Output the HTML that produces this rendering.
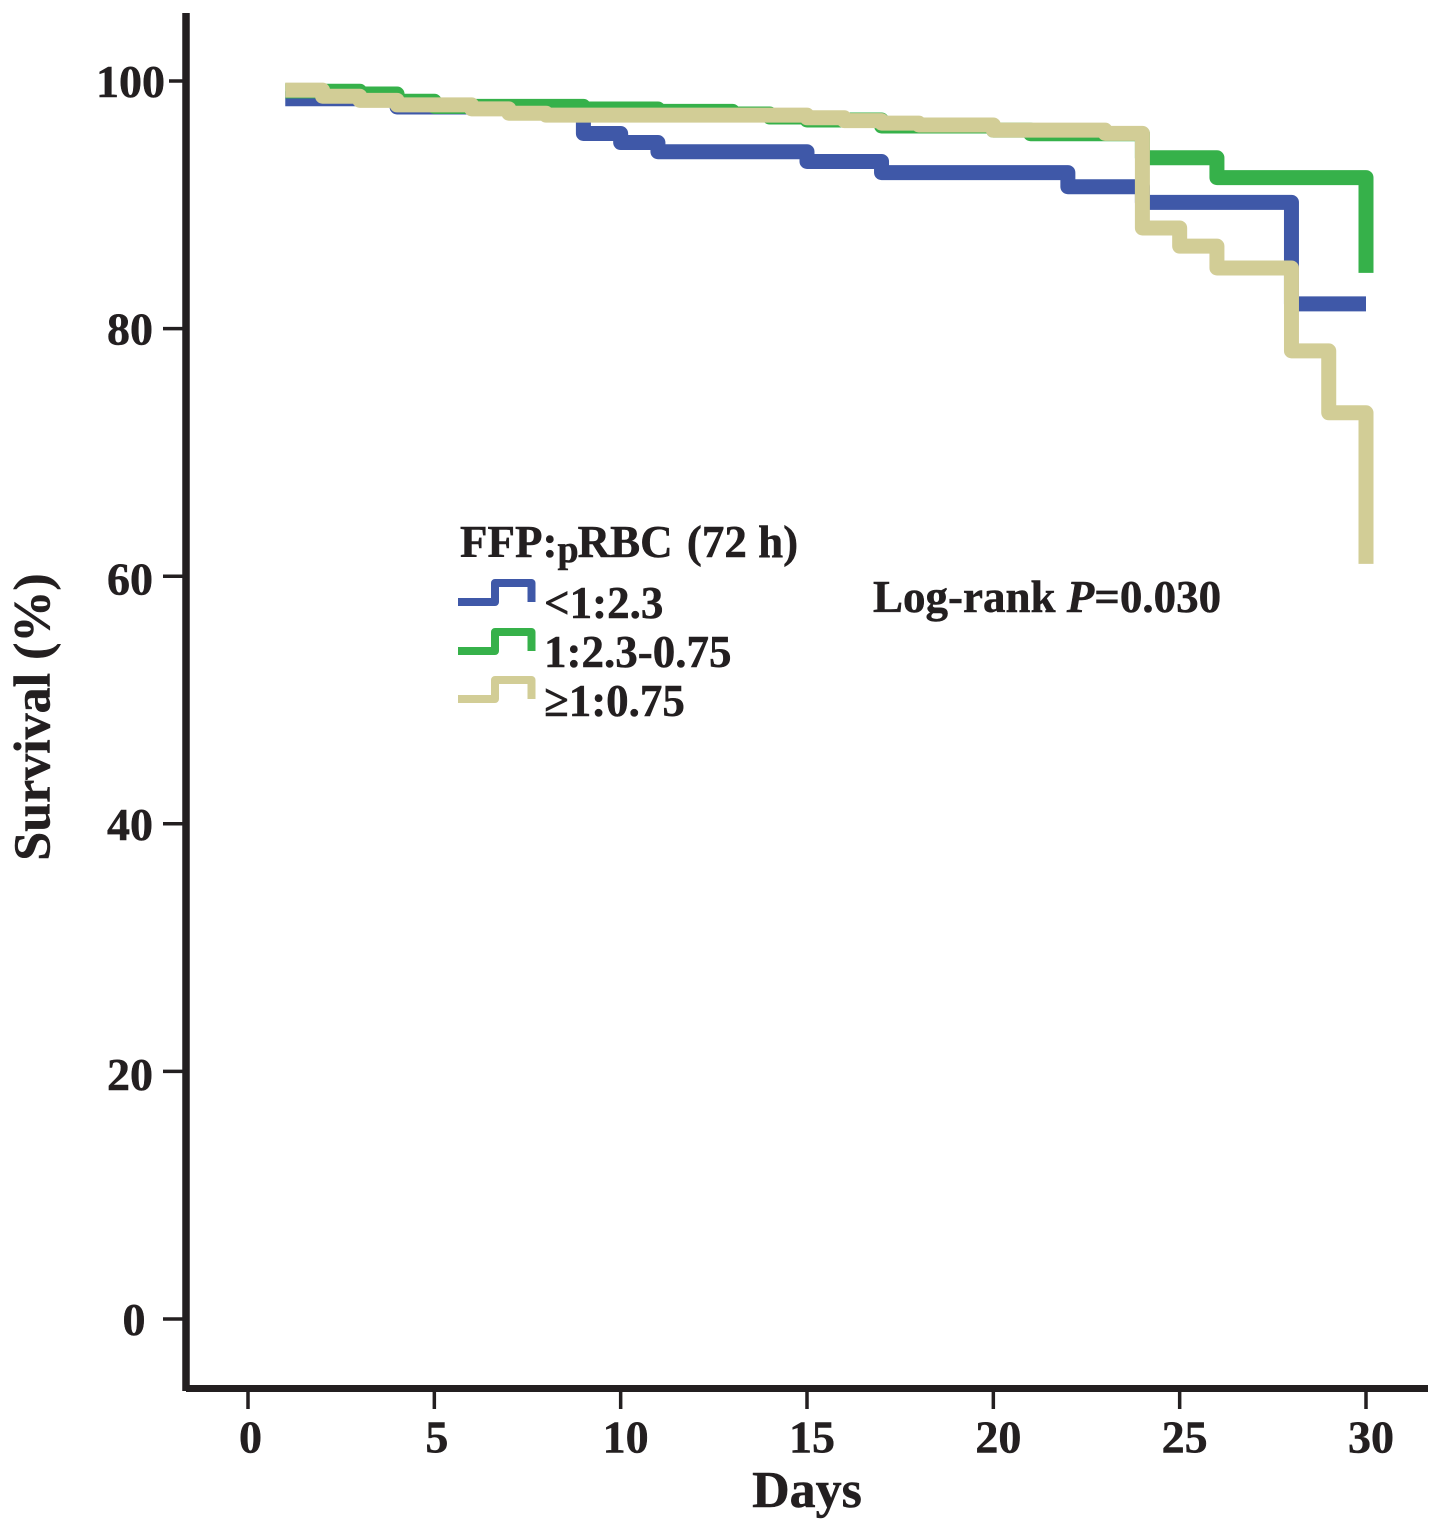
<!DOCTYPE html>
<html lang="en">
<head>
<meta charset="utf-8">
<title>Survival by FFP:pRBC ratio</title>
<style>
  html, body { margin: 0; padding: 0; background: #fff; }
  svg { display: block; }
  text { font-family: "Liberation Serif", serif; font-weight: bold; fill: #231f20; stroke: #231f20; stroke-width: 0.5; }
</style>
</head>
<body>
<svg id="chart" width="1441" height="1531" viewBox="0 0 1441 1531" xmlns="http://www.w3.org/2000/svg">
  <g id="axes"></g>
  <g id="series"></g>

  <text x="807" y="1507" font-size="52" text-anchor="middle">Days</text>
  <text transform="translate(49.5,717) rotate(-90)" font-size="52" text-anchor="middle">Survival (%)</text>

  <g>
    <text x="460" y="557" font-size="45">FFP:<tspan font-size="38" dy="5">p</tspan><tspan dy="-5" dx="-1">RBC</tspan> <tspan dx="3">(72 h)</tspan></text>
    <path d="M458 602 H495 V583 H531.5 V602" fill="none" stroke="#3f58a8" stroke-width="8" stroke-linejoin="round"/>
    <text x="544" y="618" font-size="45">&lt;1:2.3</text>
    <path d="M458 651 H495 V632 H531.5 V651" fill="none" stroke="#36b14a" stroke-width="8" stroke-linejoin="round"/>
    <text x="544" y="667" font-size="45">1:2.3-0.75</text>
    <path d="M458 699 H495 V680 H531.5 V699" fill="none" stroke="#d2cd96" stroke-width="8" stroke-linejoin="round"/>
    <text x="544" y="716" font-size="45">≥1:0.75</text>
  </g>

  <text x="873" y="612" font-size="45">Log-rank <tspan font-style="italic">P</tspan>=0.030</text>
</svg>

<script>
const xTickValues = [0, 5, 10, 15, 20, 25, 30];
const yTickValues = [0, 20, 40, 60, 80, 100];

const lowDays = [1, 3, 4, 9, 10, 11, 15, 17, 22, 24, 28, 30];
const lowSurvival = [98.57, 98.5, 97.9, 95.76, 95.03, 94.29, 93.5, 92.6, 91.46, 90.2, 82.0, 82.0];

const midDays = [1, 2, 3, 4, 5, 9, 11, 13, 14, 15, 17, 20, 21, 24, 26, 30, 30];
const midSurvival = [99.2, 99.17, 98.95, 98.36, 97.95, 97.74, 97.55, 97.33, 97.09, 96.85, 96.37, 96.03, 95.74, 93.8, 92.2, 92.2, 84.5];

const highDays = [1, 2, 3, 4, 6, 7, 8, 15, 16, 17, 18, 20, 23, 24, 25, 26, 28, 29, 30, 30];
const highSurvival = [99.26, 98.77, 98.44, 98.07, 97.75, 97.4, 97.24, 97.03, 96.8, 96.6, 96.45, 96.03, 95.77, 88.13, 86.66, 84.9, 78.2, 73.2, 73.2, 61.0];

function xScale(day) { return 248 + day * (1366 - 248) / 30; }
function yScale(pct) { return 1319 - pct * (1319 - 81) / 100; }

const NS = 'http://www.w3.org/2000/svg';
const axes = document.getElementById('axes');
const series = document.getElementById('series');

function drawLine(parent, x1, y1, x2, y2, width) {
  const ln = document.createElementNS(NS, 'line');
  ln.setAttribute('x1', x1);
  ln.setAttribute('y1', y1);
  ln.setAttribute('x2', x2);
  ln.setAttribute('y2', y2);
  ln.setAttribute('stroke', '#231f20');
  ln.setAttribute('stroke-width', width);
  parent.appendChild(ln);
  return ln;
}

const yAxisLine = drawLine(axes, 186, 13, 186, 1391, 7.5);



const xAxisLine = drawLine(axes, 186, 1388.5, 1428, 1388.5, 7);



xTickValues.forEach(function (v) {
  const tick = drawLine(axes, xScale(v), 1388, xScale(v), 1409, 3.5);
  
  
  const label = document.createElementNS(NS, 'text');
  
  
  label.setAttribute('x', xScale(v) + (v < 10 ? 2.5 : 5));
  label.setAttribute('y', 1452.5);
  label.setAttribute('font-size', '46');
  label.setAttribute('text-anchor', 'middle');
  label.textContent = String(v);
  axes.appendChild(label);
});

function yLabelEnd(v) {
  if (v === 100) return 165;
  if (v === 0) return 145.5;
  return 153;
}

yTickValues.forEach(function (v) {
  const tick = drawLine(axes, v === 100 ? 169 : 163, yScale(v), 186, yScale(v), 3.5);
  
  
  const label = document.createElementNS(NS, 'text');
  
  
  label.setAttribute('x', yLabelEnd(v));
  label.setAttribute('y', yScale(v) + ((v === 20 || v === 60) ? 18.5 : 16));
  label.setAttribute('font-size', '46');
  label.setAttribute('text-anchor', 'end');
  label.textContent = String(v);
  axes.appendChild(label);
});

function stepPath(days, values) {
  let d = 'M' + xScale(days[0]) + ' ' + yScale(values[0]);
  for (let i = 1; i < days.length; i++) {
    d += ' H' + xScale(days[i]) + ' V' + yScale(values[i]);
  }
  return d;
}

function drawCurve(days, values, color) {
  const p = document.createElementNS(NS, 'path');
  p.setAttribute('d', stepPath(days, values));
  p.setAttribute('fill', 'none');
  p.setAttribute('stroke', color);
  p.setAttribute('stroke-width', '15');
  p.setAttribute('stroke-linejoin', 'round');
  series.appendChild(p);
  return p;
}

const lowCurve = drawCurve(lowDays, lowSurvival, '#3f58a8');



const midCurve = drawCurve(midDays, midSurvival, '#36b14a');



const highCurve = drawCurve(highDays, highSurvival, '#d2cd96');


</script>
</body>
</html>
